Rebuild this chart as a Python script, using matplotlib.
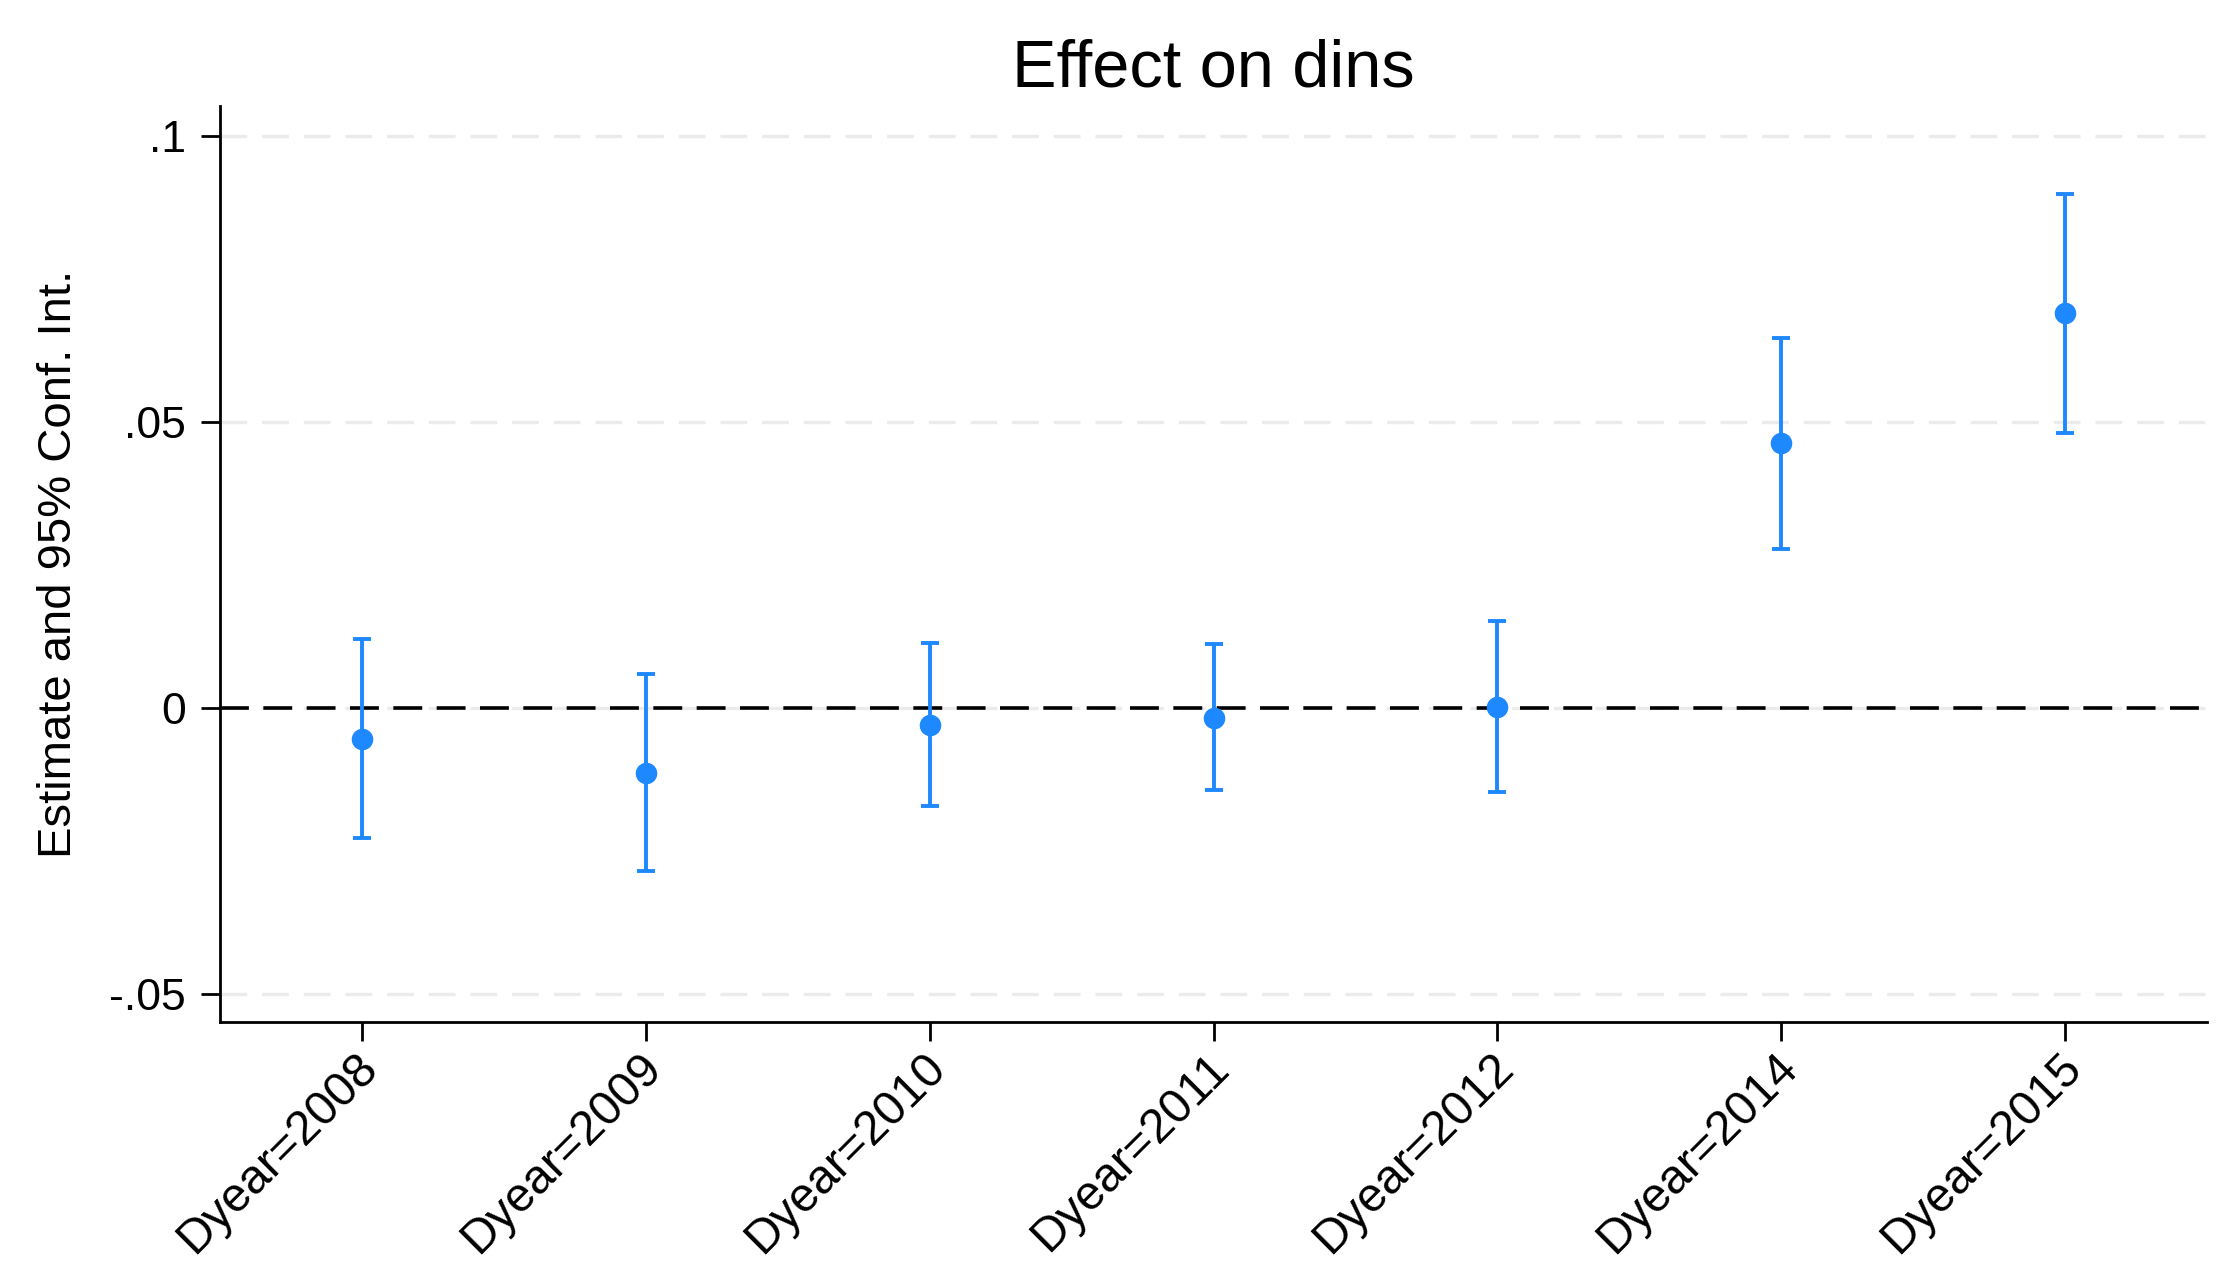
import numpy as np
import matplotlib.pyplot as plt
import matplotlib.transforms as mtransforms

plt.rcParams['font.family'] = ['Liberation Sans', 'DejaVu Sans']

# coefficient estimates and 95% CI
labels = ['Dyear=2008', 'Dyear=2009', 'Dyear=2010', 'Dyear=2011',
          'Dyear=2012', 'Dyear=2014', 'Dyear=2015']
est = [-0.0054, -0.0113, -0.0030, -0.0017, 0.0002, 0.0464, 0.0691]
ci_lo = [-0.0228, -0.0285, -0.0172, -0.0144, -0.0147, 0.0279, 0.0482]
ci_hi = [0.0121, 0.0059, 0.0114, 0.0112, 0.0152, 0.0648, 0.0900]
yticks = [-0.05, 0, 0.05, 0.1]
ytick_labels = ['-.05', '0', '.05', '.1']

blue = '#1e88ff'

x = np.arange(1, len(labels) + 1)
est = np.array(est)
yerr = np.vstack([est - np.array(ci_lo), np.array(ci_hi) - est])

fig = plt.figure(figsize=(22.26, 12.87), dpi=100)
ax = fig.add_axes([0.0988, 0.2059, 0.8927, 0.7117])

# gridlines
for yt in yticks:
    ax.axhline(yt, color='#ebebeb', lw=2.4, dashes=(8, 4.5), zorder=0)

# zero line
ax.axhline(0, color='black', lw=2.6, dashes=(8, 4), zorder=1)

ax.errorbar(x, est, yerr=yerr, fmt='o', color=blue, ms=14.5, elinewidth=2.8,
            capsize=6.5, capthick=2.8, zorder=3)

ax.set_xlim(0.5, 7.5)
ax.set_ylim(-0.0549, 0.1053)
ax.set_yticks(yticks)
ax.set_yticklabels(ytick_labels)
ax.set_xticks(x)
ax.set_xticklabels(labels, rotation=45, ha='right', va='top', rotation_mode='anchor')

ax.spines['top'].set_visible(False)
ax.spines['right'].set_visible(False)
ax.spines['left'].set_linewidth(2)
ax.spines['bottom'].set_linewidth(2)
ax.tick_params(axis='both', length=13.7, width=2)
ax.tick_params(axis='y', pad=11, labelsize=32)
ax.tick_params(axis='x', pad=3, labelsize=34.5)

# nudge rotated labels a little to the left
shift = mtransforms.ScaledTranslation(-0.07, 0, fig.dpi_scale_trans)
for lab in ax.get_xticklabels():
    lab.set_transform(lab.get_transform() + shift)

ax.set_ylabel('Estimate and 95% Conf. Int.', fontsize=34, labelpad=20)
ax.set_title('Effect on dins', fontsize=48, pad=14)

plt.savefig('out.png', dpi=100)
